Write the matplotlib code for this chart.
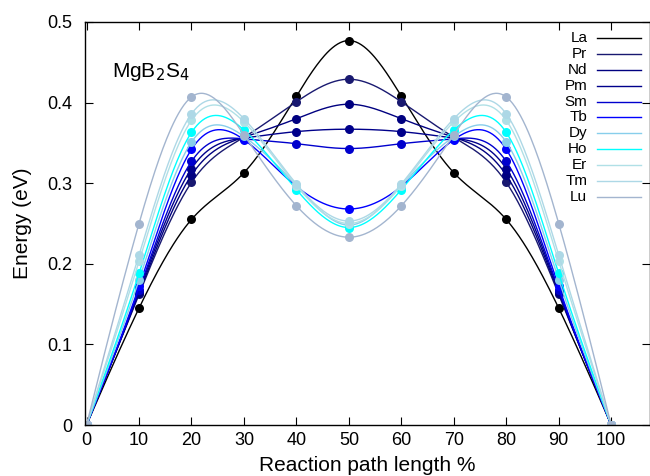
import numpy as np
import matplotlib
matplotlib.use('Agg')
import matplotlib.pyplot as plt

plt.rcParams['font.family'] = ['Liberation Sans', 'DejaVu Sans']

path_pct = [0, 10, 20, 30, 40, 50, 60, 70, 80, 90, 100]
elements = ['La', 'Pr', 'Nd', 'Pm', 'Sm', 'Tb', 'Dy', 'Ho', 'Er', 'Tm', 'Lu']
colors = ['#000000', '#191970', '#000080', '#00008b', '#0000cd', '#0000ff',
          '#87ceeb', '#00ffff', '#b0e0e6', '#add8e6', '#a3b5cf']

la = [0, 0.145, 0.255, 0.313, 0.408, 0.477, 0.408, 0.313, 0.255, 0.145, 0]
pr = [0, 0.162, 0.301, 0.357, 0.401, 0.429, 0.401, 0.357, 0.301, 0.162, 0]
nd = [0, 0.164, 0.310, 0.357, 0.380, 0.398, 0.380, 0.357, 0.310, 0.164, 0]
pm = [0, 0.166, 0.318, 0.356, 0.364, 0.367, 0.364, 0.356, 0.318, 0.166, 0]
sm = [0, 0.168, 0.327, 0.355, 0.349, 0.343, 0.349, 0.355, 0.327, 0.168, 0]
tb = [0, 0.172, 0.342, 0.354, 0.296, 0.268, 0.296, 0.354, 0.342, 0.172, 0]
dy = [0, 0.180, 0.351, 0.358, 0.297, 0.248, 0.297, 0.358, 0.351, 0.180, 0]
ho = [0, 0.188, 0.363, 0.366, 0.292, 0.245, 0.292, 0.366, 0.363, 0.188, 0]
er = [0, 0.203, 0.378, 0.376, 0.297, 0.250, 0.297, 0.376, 0.378, 0.203, 0]
tm = [0, 0.211, 0.386, 0.380, 0.299, 0.253, 0.299, 0.380, 0.386, 0.211, 0]
lu = [0, 0.250, 0.407, 0.360, 0.272, 0.233, 0.272, 0.360, 0.407, 0.250, 0]
energies = [la, pr, nd, pm, sm, tb, dy, ho, er, tm, lu]


def natural_spline(x, y, n=400):
    # natural cubic spline, like gnuplot's "smooth csplines"
    x = np.asarray(x, float)
    y = np.asarray(y, float)
    k = len(x)
    h = np.diff(x)
    A = np.zeros((k, k))
    b = np.zeros(k)
    A[0, 0] = A[-1, -1] = 1
    for i in range(1, k - 1):
        A[i, i - 1] = h[i - 1]
        A[i, i] = 2 * (h[i - 1] + h[i])
        A[i, i + 1] = h[i]
        b[i] = 6 * ((y[i + 1] - y[i]) / h[i] - (y[i] - y[i - 1]) / h[i - 1])
    m = np.linalg.solve(A, b)
    xs = np.linspace(x[0], x[-1], n)
    idx = np.clip(np.searchsorted(x, xs) - 1, 0, k - 2)
    x0, x1 = x[idx], x[idx + 1]
    hh = x1 - x0
    t0, t1 = x1 - xs, xs - x0
    ys = (m[idx] * t0**3 / (6 * hh) + m[idx + 1] * t1**3 / (6 * hh)
          + (y[idx] / hh - m[idx] * hh / 6) * t0
          + (y[idx + 1] / hh - m[idx + 1] * hh / 6) * t1)
    return xs, ys


fig = plt.figure(figsize=(6.5, 4.76), dpi=100)
ax = fig.add_axes([85 / 650, 51 / 476, 565 / 650, 403 / 476])

for name, col, vals in zip(elements, colors, energies):
    xs, ys = natural_spline(path_pct, vals)
    ax.plot(xs, ys, color=col, lw=1.0)
    ax.plot(path_pct, vals, 'o', color=col, ms=6.5, mec='none')

ax.set_xlim(-0.3, 107.4)
ax.set_ylim(0, 0.5)
ax.set_xticks(range(0, 101, 10))
ax.set_yticks([0, 0.1, 0.2, 0.3, 0.4, 0.5])
ax.set_yticklabels(['0', '0.1', '0.2', '0.3', '0.4', '0.5'])
ax.tick_params(direction='in', top=True, right=True, length=6, width=0.8,
               labelsize=13)
ax.tick_params(axis='x', pad=5)
ax.tick_params(axis='y', pad=9)
for s in ax.spines.values():
    s.set_linewidth(1.0)

ax.set_xlabel('Reaction path length %', fontsize=15, labelpad=5)
ax.set_ylabel('Energy (eV)', fontsize=15, labelpad=11)

ax.text(0.048, 0.876, r'MgB$_2$S$_4$', transform=ax.transAxes, fontsize=15,
        va='center', ha='left')

# gnuplot-style key: right-aligned labels, sample line on the right
for i, (name, col) in enumerate(zip(elements, colors)):
    yk = 0.9596 - i * 0.0393
    ax.text(0.889, yk, name, transform=ax.transAxes, ha='right', va='center',
            fontsize=11)
    ax.plot([0.906, 0.984], [yk, yk], color=col, lw=1.0,
            transform=ax.transAxes)

fig.savefig('out.png', dpi=100)
